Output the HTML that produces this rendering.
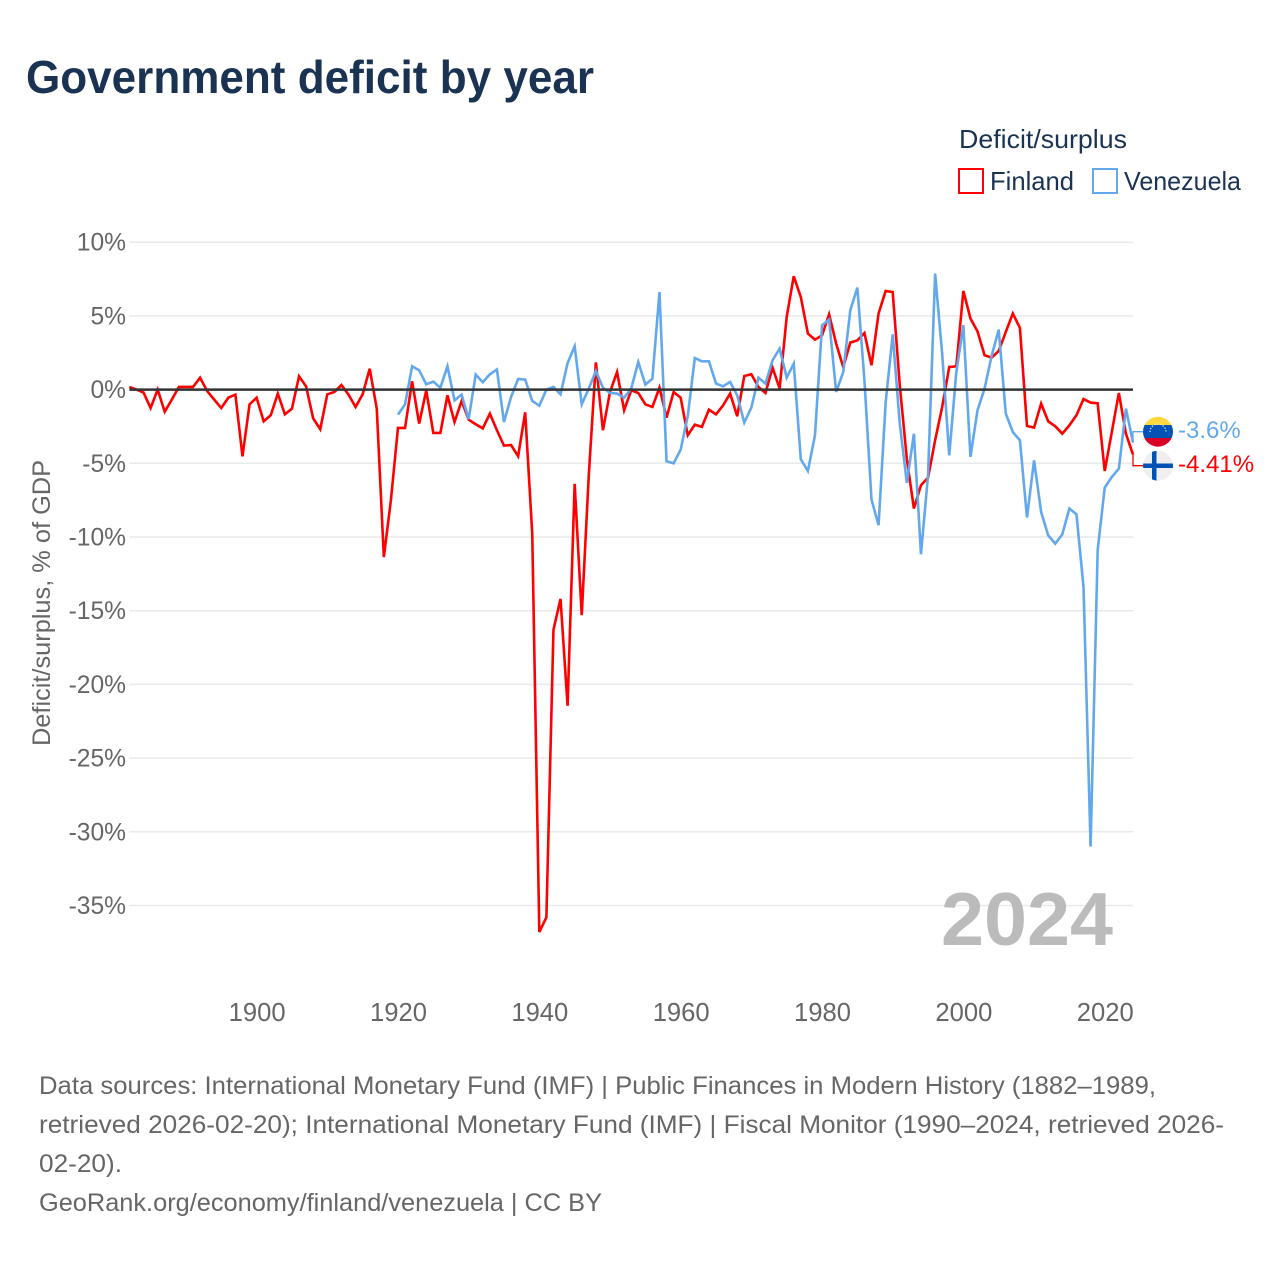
<!DOCTYPE html>
<html lang="en">
<head>
<meta charset="utf-8">
<title>Government deficit by year</title>
<style>
html,body{margin:0;padding:0;background:#fff;}
svg{display:block;font-family:"Liberation Sans",sans-serif;}
</style>
</head>
<body>
<svg id="chart" width="1280" height="1280" viewBox="0 0 1280 1280" xmlns="http://www.w3.org/2000/svg">
<rect x="0" y="0" width="1280" height="1280" fill="#fff"/>
<text x="26" y="93" font-size="46" font-weight="700" fill="#1a3352" textLength="568" lengthAdjust="spacingAndGlyphs">Government deficit by year</text>
<text x="959" y="148" font-size="26" fill="#1a3352" textLength="168" lengthAdjust="spacingAndGlyphs">Deficit/surplus</text>
<rect x="959" y="169" width="24" height="24" fill="none" stroke="#ff0000" stroke-width="2"/>
<text x="990" y="190" font-size="26" fill="#1a3352" textLength="84" lengthAdjust="spacingAndGlyphs">Finland</text>
<rect x="1093" y="169" width="24" height="24" fill="none" stroke="#63a8ec" stroke-width="2"/>
<text x="1124" y="190" font-size="26" fill="#1a3352" textLength="117" lengthAdjust="spacingAndGlyphs">Venezuela</text>
<text transform="translate(50,603) rotate(-90)" text-anchor="middle" font-size="25" fill="#666" textLength="286" lengthAdjust="spacingAndGlyphs">Deficit/surplus, % of GDP</text>
<g id="grid"></g>
<g id="yticks"></g>
<g id="xticks"></g>
<text x="941" y="945" font-size="75" font-weight="700" fill="#bbbbbb" textLength="172" lengthAdjust="spacingAndGlyphs">2024</text>
<g id="series"></g>
<g id="zero"></g>
<g>
<clipPath id="clipVe"><circle cx="1158" cy="431.7" r="15"/></clipPath>
<g clip-path="url(#clipVe)">
<rect x="1143" y="416" width="30" height="11" fill="#ffd83d"/>
<rect x="1143" y="425" width="30" height="13" fill="#0052b4"/>
<rect x="1143" y="438" width="30" height="9" fill="#d80027"/>
</g>
<path d="M1150 432 A8 8 0 0 1 1166 432" fill="none" stroke="#dfe8f5" stroke-width="1.2" stroke-dasharray="1.3 1.6"/>
</g>
<g>
<clipPath id="clipFi"><circle cx="1158" cy="465.7" r="15"/></clipPath>
<g clip-path="url(#clipFi)">
<rect x="1143" y="450" width="30" height="31" fill="#efefef"/>
<rect x="1152" y="450" width="4.5" height="31" fill="#0052b4"/>
<rect x="1143" y="463.5" width="30" height="4.5" fill="#0052b4"/>
</g>
</g>
<g id="ends"></g>
<g font-size="25" fill="#666">
<text x="39" y="1094" textLength="1117" lengthAdjust="spacingAndGlyphs">Data sources: International Monetary Fund (IMF) | Public Finances in Modern History (1882–1989,</text>
<text x="39" y="1133" textLength="1185" lengthAdjust="spacingAndGlyphs">retrieved 2026-02-20); International Monetary Fund (IMF) | Fiscal Monitor (1990–2024, retrieved 2026-</text>
<text x="39" y="1172" textLength="83" lengthAdjust="spacingAndGlyphs">02-20).</text>
<text x="39" y="1211" textLength="563" lengthAdjust="spacingAndGlyphs">GeoRank.org/economy/finland/venezuela | CC BY</text>
</g>
</svg>
<script>
const firstYearFinland = 1882;
const firstYearVenezuela = 1920;
const finlandValues = [
 0.18,0,-0.2,-1.25,0,-1.5,-0.68,0.18,0.18,0.18,0.81,-0.1,-0.68,-1.25,-0.55,-0.34,-4.53,-1.0,
 -0.55,-2.15,-1.74,-0.27,-1.68,-1.29,0.9,0.22,-1.95,-2.69,-0.32,-0.16,0.31,-0.34,-1.18,-0.32,1.42,-1.29,-11.36,-7.5,
 -2.6,-2.6,0.56,-2.31,-0.05,-2.94,-2.94,-0.39,-2.2,-0.77,-2.04,-2.35,-2.63,-1.63,-2.76,-3.8,-3.76,-4.52,-1.54,-9.78,
 -36.8,-35.8,-16.3,-14.2,-21.45,-6.39,-15.3,-5.8,1.85,-2.76,-0.16,1.19,-1.4,-0.05,-0.23,-1.0,-1.18,0.13,-1.9,-0.16,
 -0.55,-3.1,-2.38,-2.53,-1.36,-1.68,-1.07,-0.27,-1.81,0.92,1.04,0.18,-0.23,1.49,0.07,4.93,7.69,6.28,3.8,3.39,
 3.68,5.11,3.12,1.53,3.19,3.34,3.84,1.65,5.16,6.69,6.62,0.3,-4.7,-8.07,-6.49,-5.97,-3.44,-1.18,1.53,1.58,
 6.69,4.82,3.95,2.33,2.17,2.62,3.91,5.16,4.18,-2.47,-2.58,-0.95,-2.15,-2.49,-2.99,-2.42,-1.74,-0.64,-0.88,-0.93,
 -5.52,-2.88,-0.23,-2.99,-4.41
];
const venezuelaValues = [
 -1.7,-1.0,1.58,1.31,0.36,0.54,0.13,1.58,-0.73,-0.34,-2.0,1.02,0.5,1.04,1.36,-2.2,-0.5,0.72,0.68,-0.77,
 -1.09,0,0.18,-0.32,1.8,2.94,-1.0,0.07,1.26,0.13,-0.23,-0.27,-0.55,0.07,1.87,0.34,0.74,6.62,-4.86,-5.0,
 -4.07,-1.8,2.14,1.92,1.92,0.41,0.22,0.52,-0.39,-2.24,-1.22,0.81,0.41,1.99,2.78,0.81,1.76,-4.73,-5.52,-3.1,
 4.36,4.75,-0.16,1.19,5.38,6.92,0.63,-7.46,-9.2,-0.9,3.75,-2.31,-6.33,-2.99,-11.17,-5.8,7.87,2.44,-4.46,1.19,
 4.37,-4.57,-1.4,0.07,2.3,4.07,-1.63,-2.88,-3.44,-8.68,-4.8,-8.3,-9.89,-10.45,-9.82,-8.07,-8.46,-13.4,-31.0,-10.9,
 -6.65,-5.93,-5.36,-1.29,-3.6
];
const yTickValues = [10,5,0,-5,-10,-15,-20,-25,-30,-35];
const yTickLabels = ["10%","5%","0%","-5%","-10%","-15%","-20%","-25%","-30%","-35%"];
const xTickValues = [1900,1920,1940,1960,1980,2000,2020];
const xTickLabels = ["1900","1920","1940","1960","1980","2000","2020"];

const NS = "http://www.w3.org/2000/svg";
const xLeft = 129.4, xRight = 1133, yearMin = 1882, yearMax = 2024;
const y0 = 389.6, pxPerPct = 14.74;
function xScale(year){ return xLeft + (year - yearMin) * (xRight - xLeft) / (yearMax - yearMin); }
function yScale(v){ return y0 - v * pxPerPct; }
function make(tag, parentId){
  const el = document.createElementNS(NS, tag);
  document.getElementById(parentId).appendChild(el);
  return el;
}
function linePath(values, startYear){
  return values.map(function(v, i){
    return (i ? "L" : "M") + xScale(startYear + i).toFixed(2) + " " + yScale(v).toFixed(2);
  }).join("");
}

yTickValues.forEach(function(v, i){
  if (v !== 0) {
    const g = make("line", "grid");
    
    
    g.setAttribute("x1", xLeft);
    g.setAttribute("x2", xRight);
    g.setAttribute("y1", yScale(v));
    g.setAttribute("y2", yScale(v));
    g.setAttribute("stroke", "#e9e9e9");
    g.setAttribute("stroke-width", "1.5");
  }
  const t = make("text", "yticks");
  
  
  t.setAttribute("x", 126);
  t.setAttribute("y", yScale(v) + 8.5);
  t.setAttribute("text-anchor", "end");
  t.setAttribute("font-size", "24.6");
  t.setAttribute("fill", "#666");
  t.textContent = yTickLabels[i];
});

xTickValues.forEach(function(year, i){
  const t = make("text", "xticks");
  
  
  t.setAttribute("x", xScale(year) + 0.5);
  t.setAttribute("y", 1021);
  t.setAttribute("text-anchor", "middle");
  t.setAttribute("font-size", "25.6");
  t.setAttribute("fill", "#666");
  t.textContent = xTickLabels[i];
});

const finlandLine = make("path", "series");


finlandLine.setAttribute("d", linePath(finlandValues, firstYearFinland));
finlandLine.setAttribute("fill", "none");
finlandLine.setAttribute("stroke", "#ff0000");
finlandLine.setAttribute("stroke-width", "2.6");

const venezuelaLine = make("path", "series");


venezuelaLine.setAttribute("d", linePath(venezuelaValues, firstYearVenezuela));
venezuelaLine.setAttribute("fill", "none");
venezuelaLine.setAttribute("stroke", "#63a8ec");
venezuelaLine.setAttribute("stroke-width", "2.6");

const zeroLine = make("line", "zero");


zeroLine.setAttribute("x1", xLeft);
zeroLine.setAttribute("x2", xRight);
zeroLine.setAttribute("y1", yScale(0));
zeroLine.setAttribute("y2", yScale(0));
zeroLine.setAttribute("stroke", "#333");
zeroLine.setAttribute("stroke-width", "2.5");

const lastFinland = finlandValues[finlandValues.length - 1];
const lastVenezuela = venezuelaValues[venezuelaValues.length - 1];

const connectorV = make("path", "ends");


connectorV.setAttribute("d", "M" + xRight + " " + yScale(lastVenezuela) + "V431.7H1143");
connectorV.setAttribute("fill", "none");
connectorV.setAttribute("stroke", "#63a8ec");
connectorV.setAttribute("stroke-width", "1.3");

const connectorF = make("path", "ends");


connectorF.setAttribute("d", "M" + xRight + " " + yScale(lastFinland) + "V465.7H1143");
connectorF.setAttribute("fill", "none");
connectorF.setAttribute("stroke", "#ff0000");
connectorF.setAttribute("stroke-width", "1.3");

const labelV = make("text", "ends");


labelV.setAttribute("x", 1178);
labelV.setAttribute("y", 438);
labelV.setAttribute("font-size", "24");
labelV.setAttribute("fill", "#63a8ec");
labelV.textContent = lastVenezuela + "%";

const labelF = make("text", "ends");


labelF.setAttribute("x", 1178);
labelF.setAttribute("y", 472);
labelF.setAttribute("font-size", "24");
labelF.setAttribute("fill", "#ff0000");
labelF.textContent = lastFinland + "%";
</script>
</body>
</html>
